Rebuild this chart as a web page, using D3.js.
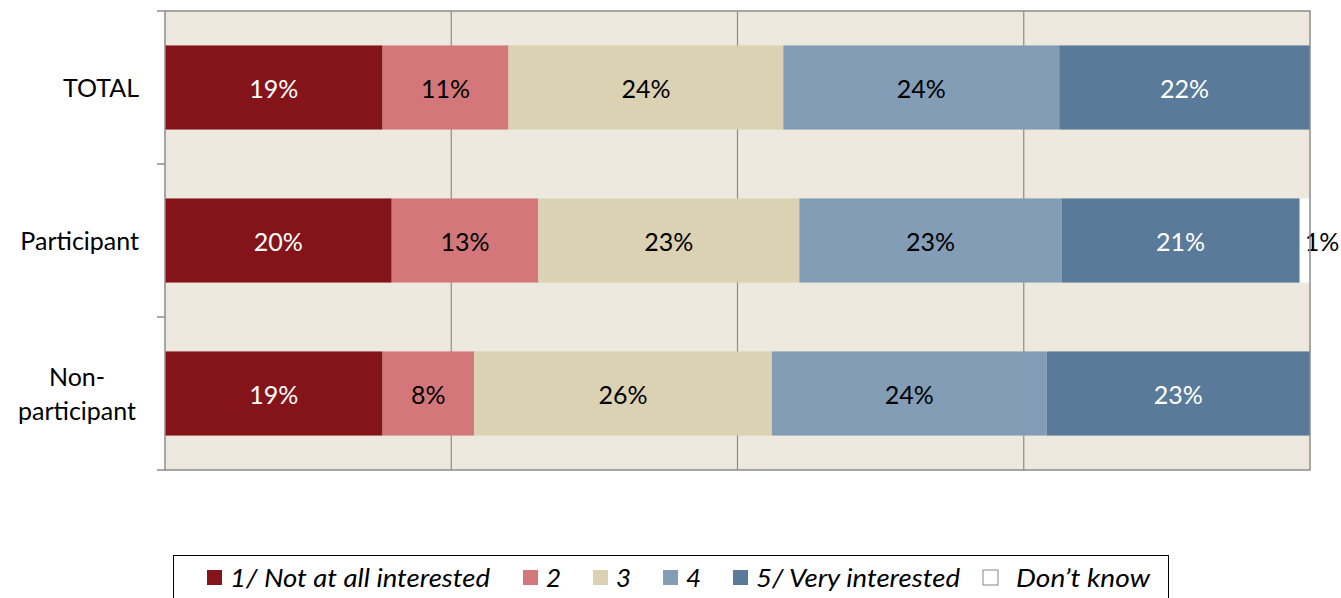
<!DOCTYPE html>
<html><head><meta charset="utf-8">
<script src="https://cdn.jsdelivr.net/npm/d3@7"></script>
<style>html,body{margin:0;padding:0;background:#fff;}svg{display:block;}</style>
</head><body>
<svg id="c" width="1341" height="598"></svg>
<script>
const categories = ["TOTAL", "Participant", "Non-participant"];
const seriesNames = ["1/ Not at all interested", "2", "3", "4", "5/ Very interested", "Don\u2019t know"];
const s1 = [19.0, 19.8, 19.0];
const s2 = [11.0, 12.8, 8.0];
const s3 = [24.0, 22.8, 26.0];
const s4 = [24.1, 22.9, 24.0];
const s5 = [21.9, 20.8, 23.0];
const s6 = [0, 0.9, 0];
const xTicks = [0, 25, 50, 75, 100];

(function () {
const colors = ["#85141a", "#d3777a", "#dbd2b3", "#839db7", "#5a7a99", "#ffffff"];
const labelColors = ["#ffffff", "#000000", "#000000", "#000000", "#ffffff", "#000000"];
const seriesVals = [s1, s2, s3, s4, s5, s6];

const rows = categories.map((c, i) => {
  const o = {cat: c};
  seriesNames.forEach((s, k) => o[s] = seriesVals[k][i]);
  return o;
});
const stacked = d3.stack().keys(seriesNames)(rows);

const svg = d3.select("#c");
const pL = 165, pR = 1310, pT = 11, pB = 470;
const x = d3.scaleLinear().domain([0, 100]).range([pL, pR]);
const y = d3.scaleBand().domain(categories).range([pT, pB]).paddingInner(0.45).paddingOuter(0.225);
const font = "Lato, 'Open Sans', sans-serif";

svg.append("rect").attr("x", pL).attr("y", pT).attr("width", pR - pL).attr("height", pB - pT).attr("fill", "#ede9df");

svg.append("g").selectAll("line").data(xTicks.filter(t => t > 0 && t < 100)).join("line")
  .attr("x1", d => x(d)).attr("x2", d => x(d)).attr("y1", pT).attr("y2", pB)
  .attr("stroke", "#8c8c8c").attr("stroke-width", 1.2);

const g = svg.append("g");
stacked.forEach((layer, k) => {
  g.append("g").selectAll("rect").data(layer.filter(d => d[1] - d[0] > 0)).join("rect")
    .attr("x", d => x(d[0])).attr("width", d => x(d[1]) - x(d[0]))
    .attr("y", d => y(d.data.cat)).attr("height", y.bandwidth())
    .attr("fill", colors[k]);
});
stacked.forEach((layer, k) => {
  g.append("g").selectAll("text").data(layer.filter(d => d[1] - d[0] > 0)).join("text")
    .attr("x", d => (x(d[0]) + x(d[1])) / 2)
    .attr("y", d => y(d.data.cat) + y.bandwidth() / 2 + 2)
    .attr("dy", "0.35em")
    .attr("text-anchor", k === 5 ? "start" : "middle")
    .attr("fill", labelColors[k])
    .attr("font-family", font).attr("font-size", 25)
    .text(d => Math.round(d[1] - d[0]) + "%");
});

svg.append("path").attr("d", `M${pL},${pT}H${pR}V${pB}H${pL}`)
  .attr("fill", "none").attr("stroke", "#8c8c8c").attr("stroke-width", 1.5);

const yEdges = [pT].concat(categories.map(c => y(c) - y.step() * y.paddingInner() / 2 + y.step()));
const axisG = svg.append("g");
axisG.append("line").attr("x1", pL).attr("x2", pL).attr("y1", pT).attr("y2", pB)
  .attr("stroke", "#8c8c8c").attr("stroke-width", 1.5);
axisG.selectAll("line.tk").data(yEdges).join("line").attr("class", "tk")
  .attr("x1", pL - 8).attr("x2", pL).attr("y1", d => d).attr("y2", d => d)
  .attr("stroke", "#8c8c8c").attr("stroke-width", 1.5);

const catLines = {"TOTAL": ["TOTAL"], "Participant": ["Participant"], "Non-participant": ["Non-", "participant"]};
categories.forEach(c => {
  const lines = catLines[c];
  const cy = y(c) + y.bandwidth() / 2 + 1;
  const t = svg.append("text").attr("text-anchor", "middle")
    .attr("font-family", font).attr("font-size", 25).attr("fill", "#000");
  const lh = 34;
  lines.forEach((ln, i) => {
    t.append("tspan").attr("x", 77).attr("y", cy + (i - (lines.length - 1) / 2) * lh).attr("dy", "0.35em").text(ln);
  });
  if (lines.length === 1) t.attr("text-anchor", "end").selectAll("tspan").attr("x", 139);
});

svg.append("rect").attr("x", 173.5).attr("y", 555.5).attr("width", 995).attr("height", 60)
  .attr("fill", "#fff").attr("stroke", "#000").attr("stroke-width", 1);
const legX = [207, 523, 593, 663, 733, 983];
const legW = [260, null, null, null, 204, 134];
const leg = svg.append("g");
seriesNames.forEach((s, k) => {
  leg.append("rect").attr("x", legX[k]).attr("y", 570).attr("width", 15).attr("height", 15)
    .attr("fill", colors[k]).attr("stroke", k === 5 ? "#888" : "none");
  const t = leg.append("text").attr("x", legX[k] + (k === 5 ? 33 : 23)).attr("y", 578).attr("dy", "0.35em")
    .attr("font-family", font).attr("font-style", "italic").attr("font-size", 26).attr("fill", "#000")
    .text(s);
  if (legW[k]) t.attr("textLength", legW[k]).attr("lengthAdjust", "spacingAndGlyphs");
});
})();
</script>
</body></html>
